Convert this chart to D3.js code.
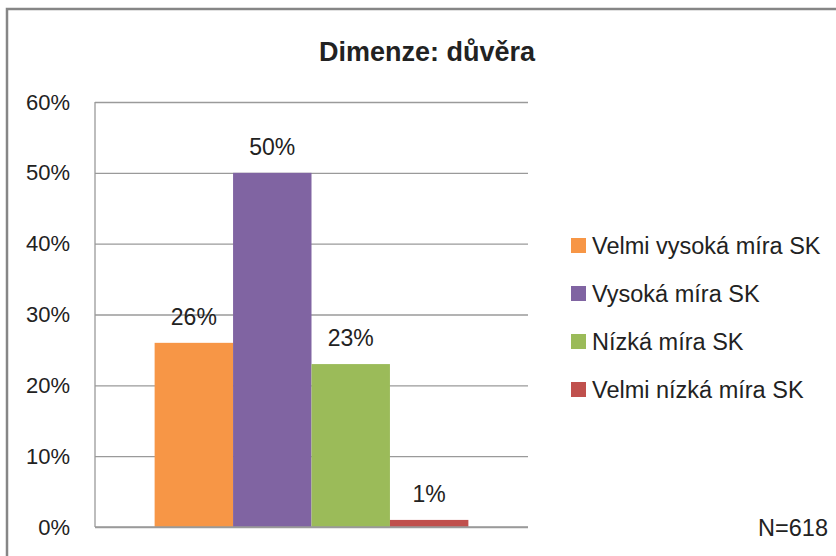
<!DOCTYPE html>
<html>
<head>
<meta charset="utf-8">
<script src="https://cdn.jsdelivr.net/npm/d3@7"></script>
<style>
html,body{margin:0;padding:0;background:#fff;}
svg{display:block;}
text{font-family:"Liberation Sans",Arial,sans-serif;fill:#222;}
</style>
</head>
<body>
<script>
const title = "Dimenze: důvěra";
const category = ["důvěra"];
const series = ["Velmi vysoká míra SK","Vysoká míra SK","Nízká míra SK","Velmi nízká míra SK"];
const values = [0.26, 0.50, 0.23, 0.01];
const colors = ["#F79646","#8064A2","#9BBB59","#C0504D"];
const yTicks = [0,0.1,0.2,0.3,0.4,0.5,0.6];
const note = "N=618";

const W = 836, H = 556;
const svg = d3.select("body").append("svg").attr("width", W).attr("height", H);

// chart frame
svg.append("rect").attr("x",7).attr("y",9).attr("width",W+20).attr("height",H+20)
  .attr("fill","#fff").attr("stroke","#868686").attr("stroke-width",2.5);

const plot = {left:95, right:528, top:102, bottom:527};
const y = d3.scaleLinear().domain([0,0.6]).range([plot.bottom, plot.top]);
const x0 = d3.scaleBand().domain(category).range([plot.left, plot.right]).paddingInner(0).paddingOuter(0.19);
const x1 = d3.scaleBand().domain(series).range([0, x0.bandwidth()]).padding(0);

// gridlines + axis labels
const yAxis = d3.axisLeft(y).tickValues(yTicks).tickFormat(d3.format(".0%"))
  .tickSize(-(plot.right-plot.left)).tickPadding(25);
const ga = svg.append("g").attr("transform",`translate(${plot.left},0)`).call(yAxis);
ga.select(".domain").remove();
ga.selectAll(".tick line").attr("stroke","#9a9a9a").attr("stroke-width",1.3);
ga.selectAll(".tick text").style("font-size","22px").attr("fill","#222");
svg.append("line").attr("x1",plot.left).attr("x2",plot.left).attr("y1",plot.top).attr("y2",plot.bottom)
  .attr("stroke","#9a9a9a").attr("stroke-width",1.3);

// bars
const g = svg.append("g").attr("transform",`translate(${x0(category[0])},0)`);
g.selectAll("rect").data(series).join("rect")
  .attr("x", d => x1(d))
  .attr("width", x1.bandwidth())
  .attr("y", (d,i) => y(values[i]))
  .attr("height", (d,i) => y(0) - y(values[i]))
  .attr("fill", (d,i) => colors[i]);

// redraw baseline over bars
svg.append("line").attr("x1",plot.left).attr("x2",plot.right).attr("y1",y(0)).attr("y2",y(0))
  .attr("stroke","#9a9a9a").attr("stroke-width",1.3);

g.selectAll("text.lbl").data(series).join("text").attr("class","lbl")
  .attr("x", d => x1(d) + x1.bandwidth()/2)
  .attr("y", (d,i) => y(values[i]) - 18)
  .attr("text-anchor","middle")
  .style("font-size","23px")
  .text((d,i) => d3.format(".0%")(values[i]));

// title
svg.append("text").attr("x",427).attr("y",61).attr("text-anchor","middle")
  .style("font-size","27px").style("font-weight","bold").text(title);

// legend
const lg = svg.append("g").attr("transform","translate(571,246)");
const items = lg.selectAll("g").data(series).join("g")
  .attr("transform",(d,i)=>`translate(0,${i*48})`);
items.append("rect").attr("x",0).attr("y",-8).attr("width",15).attr("height",15)
  .attr("fill",(d,i)=>colors[i]);
items.append("text").attr("x",21).attr("y",8).style("font-size","23.5px").text(d=>d);

// N note
svg.append("text").attr("x",828).attr("y",536).attr("text-anchor","end")
  .style("font-size","23.5px").text(note);
</script>
</body>
</html>
